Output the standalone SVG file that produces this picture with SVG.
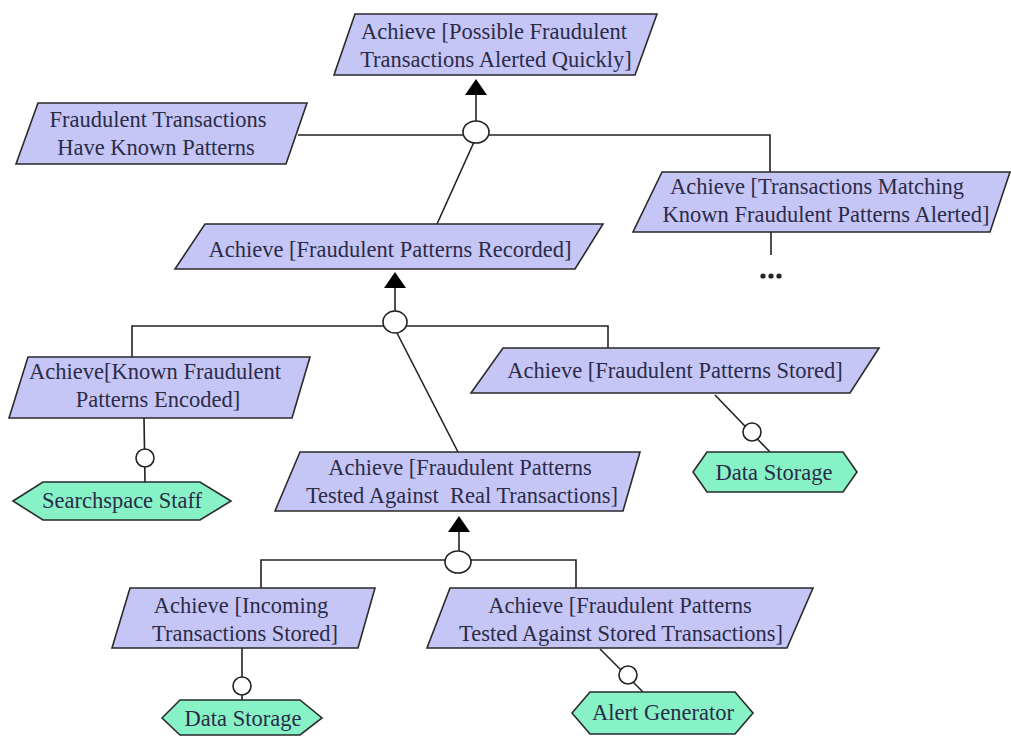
<svg xmlns="http://www.w3.org/2000/svg" width="1011" height="736" viewBox="0 0 1011 736">
  <style>
    .goal { fill: #c6c6f6; stroke: #2a2a2a; stroke-width: 1.6; }
    .agent { fill: #86f2c6; stroke: #2a2a2a; stroke-width: 1.6; }
    .label { font-family: "Liberation Serif", "Times New Roman", serif; font-size: 22.5px; fill: #2b2b48; text-anchor: middle; }
    .link { fill: none; stroke: #222; stroke-width: 1.6; }
    .node-circle { fill: #fff; stroke: #222; stroke-width: 1.6; }
    .head { fill: #000; stroke: none; }
  </style>
  <rect width="1011" height="736" fill="#ffffff"/>

  <!-- connectors -->
  <g id="connectors">
    <!-- refinement of the root goal -->
    <polyline class="link" points="298,135 770,135 770,172"/>
    <line class="link" x1="476" y1="121" x2="476" y2="94"/>
    <polygon class="head" points="465,95 487,95 476,79"/>
    <line class="link" x1="474" y1="142" x2="437" y2="224"/>
    <ellipse class="node-circle" cx="476" cy="132" rx="13" ry="11"/>

    <!-- continuation below the matching goal -->
    <line class="link" x1="771" y1="232" x2="771" y2="255"/>
    <circle cx="763" cy="276" r="2.6" fill="#222"/>
    <circle cx="771" cy="276" r="2.6" fill="#222"/>
    <circle cx="779" cy="276" r="2.6" fill="#222"/>

    <!-- refinement of "patterns recorded" -->
    <polyline class="link" points="132,357 132,326 608,326 608,348"/>
    <line class="link" x1="395" y1="311" x2="395" y2="287"/>
    <polygon class="head" points="384,288 406,288 395,272"/>
    <line class="link" x1="397" y1="333" x2="458" y2="452"/>
    <ellipse class="node-circle" cx="395" cy="322" rx="12" ry="11"/>

    <!-- agent assignments -->
    <line class="link" x1="144" y1="418" x2="145" y2="482"/>
    <circle class="node-circle" cx="145" cy="458" r="9"/>
    <line class="link" x1="715" y1="395" x2="770" y2="452"/>
    <circle class="node-circle" cx="752" cy="432" r="9"/>

    <!-- refinement of "tested against real transactions" -->
    <polyline class="link" points="261,588 261,560 576,560 576,588"/>
    <line class="link" x1="459" y1="551" x2="459" y2="531"/>
    <polygon class="head" points="448,532 470,532 459,516"/>
    <ellipse class="node-circle" cx="458" cy="562" rx="13" ry="11"/>

    <line class="link" x1="242" y1="648" x2="242" y2="700"/>
    <circle class="node-circle" cx="242" cy="686" r="9"/>
    <line class="link" x1="600" y1="649" x2="643" y2="692"/>
    <circle class="node-circle" cx="628" cy="675" r="9"/>
  </g>

  <!-- goals -->
  <g id="goal-alerted-quickly">
    <polygon class="goal" points="355,14 657,14 635,75 334,75"/>
    <text class="label" x="494" y="39">Achieve [Possible Fraudulent</text>
    <text class="label" x="496" y="67">Transactions Alerted Quickly]</text>
  </g>

  <g id="domain-known-patterns">
    <polygon class="goal" points="38,103 307,103 286,164 16,164"/>
    <text class="label" x="158" y="127">Fraudulent Transactions</text>
    <text class="label" x="156" y="155">Have Known Patterns</text>
  </g>

  <g id="goal-matching-alerted">
    <polygon class="goal" points="662,172 1010,172 990,232 633,232"/>
    <text class="label" x="817" y="194">Achieve [Transactions Matching</text>
    <text class="label" x="826" y="222">Known Fraudulent Patterns Alerted]</text>
  </g>

  <g id="goal-patterns-recorded">
    <polygon class="goal" points="205,224 603,224 575,269 175,269"/>
    <text class="label" x="390" y="257">Achieve [Fraudulent Patterns Recorded]</text>
  </g>

  <g id="goal-patterns-encoded">
    <polygon class="goal" points="28,357 310,357 292,418 9,418"/>
    <text class="label" x="155" y="379">Achieve[Known Fraudulent</text>
    <text class="label" x="158" y="407">Patterns Encoded]</text>
  </g>

  <g id="goal-patterns-stored">
    <polygon class="goal" points="503,348 879,348 850,393 471,393"/>
    <text class="label" x="675" y="378">Achieve [Fraudulent Patterns Stored]</text>
  </g>

  <g id="goal-tested-real">
    <polygon class="goal" points="300,452 640,452 623,511 275,511"/>
    <text class="label" x="460" y="475">Achieve [Fraudulent Patterns</text>
    <text class="label" x="462" y="503" xml:space="preserve">Tested Against  Real Transactions]</text>
  </g>

  <g id="goal-incoming-stored">
    <polygon class="goal" points="130,588 375,588 358,648 112,648"/>
    <text class="label" x="241" y="613">Achieve [Incoming</text>
    <text class="label" x="245" y="641">Transactions Stored]</text>
  </g>

  <g id="goal-tested-stored">
    <polygon class="goal" points="450,588 813,588 787,648 427,648"/>
    <text class="label" x="620" y="613">Achieve [Fraudulent Patterns</text>
    <text class="label" x="621" y="641">Tested Against Stored Transactions]</text>
  </g>

  <!-- agents -->
  <g id="agent-searchspace-staff">
    <polygon class="agent" points="13,501 43,482 200,482 231,501 200,520 43,520"/>
    <text class="label" x="122" y="508">Searchspace Staff</text>
  </g>

  <g id="agent-data-storage-1">
    <polygon class="agent" points="693,472 707,452 843,452 857,472 843,492 707,492"/>
    <text class="label" x="774" y="480">Data Storage</text>
  </g>

  <g id="agent-data-storage-2">
    <polygon class="agent" points="162,718 180,700 300,700 322,718 300,735 180,735"/>
    <text class="label" x="243" y="726">Data Storage</text>
  </g>

  <g id="agent-alert-generator">
    <polygon class="agent" points="572,713 590,692 735,692 753,713 735,734 590,734"/>
    <text class="label" x="663" y="720">Alert Generator</text>
  </g>
</svg>
